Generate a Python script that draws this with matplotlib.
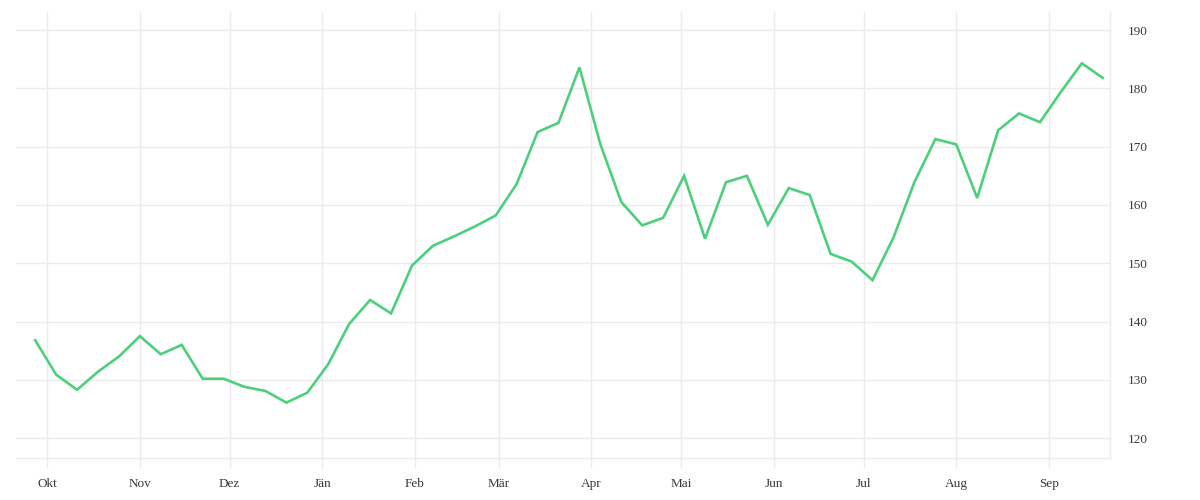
import matplotlib
matplotlib.use("Agg")
import matplotlib.pyplot as plt
import pandas as pd

start_date = "2020-09-27"
n_weeks = 52
values = [136.8, 130.9, 128.3, 131.4, 134.0, 137.5, 134.4, 136.0, 130.2, 130.2,
          128.8, 128.1, 126.1, 127.8, 132.7, 139.6, 143.7, 141.4, 149.6, 153.0,
          154.6, 156.3, 158.2, 163.6, 172.5, 174.1, 183.6, 170.4, 160.5, 156.5,
          157.8, 165.0, 154.2, 163.9, 165.0, 156.6, 162.9, 161.7, 151.6, 150.3,
          147.1, 154.4, 163.9, 171.3, 170.4, 161.2, 172.8, 175.7, 174.2, 179.4,
          184.3, 181.8]
month_labels = ["Okt", "Nov", "Dez", "Jän", "Feb", "Mär", "Apr", "Mai", "Jun", "Jul", "Aug", "Sep"]
y_ticks = [120, 130, 140, 150, 160, 170, 180, 190]

dates = pd.date_range(start_date, periods=n_weeks, freq="7D")
month_ticks = pd.date_range("2020-10-01", periods=len(month_labels), freq="MS")

plt.rcParams['font.family'] = ['Liberation Serif', 'DejaVu Serif']

fig = plt.figure(figsize=(12, 5), dpi=100)
ax = fig.add_axes([16/1200, 1 - 458/500, (1110 - 16)/1200, (458 - 12)/500])

grid_c = "#ebebeb"
ax.plot(dates, values, color="#4cd07c", linewidth=1.9, solid_joinstyle="miter", zorder=3)

ax.set_ylim(116.6, 193.1)
ax.set_xlim(pd.Timestamp("2020-09-20 14:00"), pd.Timestamp("2021-09-21 10:00"))
ax.set_yticks(y_ticks)
ax.set_xticks(month_ticks)
ax.set_xticklabels(month_labels)

ax.yaxis.tick_right()
ax.grid(True, color=grid_c, linewidth=1)
for s in ["top", "left"]:
    ax.spines[s].set_visible(False)
for s in ["bottom", "right"]:
    ax.spines[s].set_color(grid_c)
    ax.spines[s].set_linewidth(1)

ax.tick_params(axis="x", length=7.2, color=grid_c, width=1, pad=7, labelsize=9.5, labelcolor="#3a3a3a")
ax.tick_params(axis="y", length=0, pad=13, labelsize=9.5, labelcolor="#3a3a3a")
for lbl in ax.get_yticklabels():
    lbl.set_horizontalalignment("left")

fig.savefig("out.png", dpi=100, facecolor="white")
